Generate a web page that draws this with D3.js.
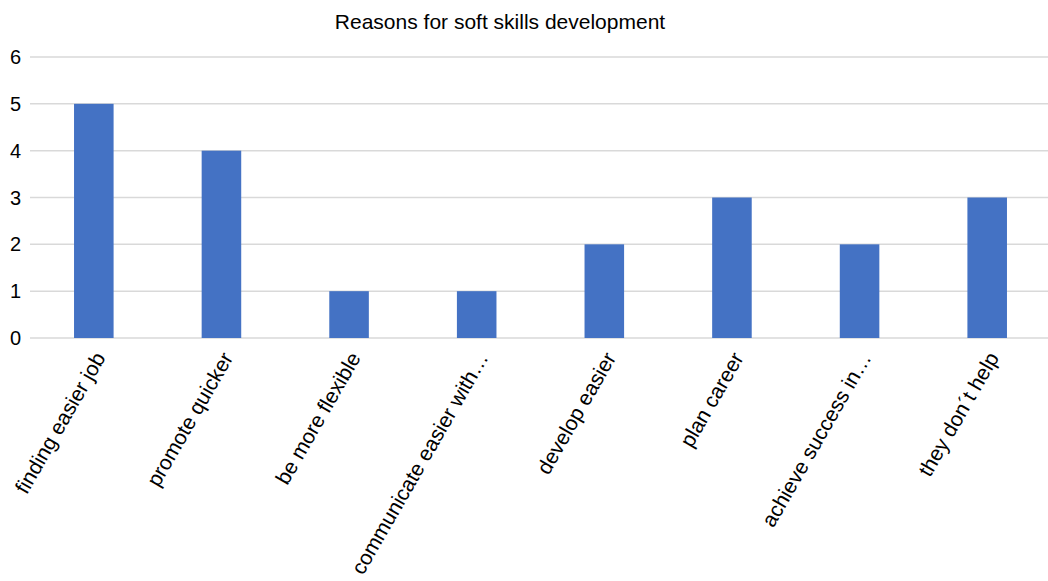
<!DOCTYPE html>
<html>
<head>
<meta charset="utf-8">
<script src="https://cdn.jsdelivr.net/npm/d3@7"></script>
<style>
  body { margin: 0; background: #fff; }
  text { font-family: "Liberation Sans", Arial, sans-serif; }
</style>
</head>
<body>
<div id="chart"></div>
<script>
var categories = ["finding easier job", "promote quicker", "be more flexible", "communicate easier with…",
                  "develop easier", "plan career", "achieve success in…", "they don´t help"];
var values = [5, 4, 1, 1, 2, 3, 2, 3];
var yTicks = [0, 1, 2, 3, 4, 5, 6];

var width = 1048;
var height = 581;
var plotLeft = 30, plotRight = 1051, plotTop = 57, plotBottom = 338;

var svg = d3.select("#chart")
    .append("svg")
      .attr("width", width)
      .attr("height", height);

var x = d3.scaleBand()
    .domain(categories)
    .range([plotLeft, plotRight])
    .paddingInner(0.69)
    .paddingOuter(0.345);

var y = d3.scaleLinear()
    .domain([0, 6])
    .range([plotBottom, plotTop]);

// gridlines
svg.append("g")
  .selectAll("line")
  .data(yTicks)
  .enter()
  .append("line")
    .attr("x1", plotLeft)
    .attr("x2", width)
    .attr("y1", function(d) { return y(d); })
    .attr("y2", function(d) { return y(d); })
    .style("stroke", "#d9d9d9")
    .style("stroke-width", 1.5);

// y labels
svg.append("g")
  .selectAll("text")
  .data(yTicks)
  .enter()
  .append("text")
    .attr("x", 21)
    .attr("y", function(d) { return y(d); })
    .attr("dy", "0.35em")
    .attr("text-anchor", "end")
    .style("font-size", "20px")
    .style("fill", "#000")
    .text(function(d) { return d; });

// bars
svg.append("g")
  .selectAll("rect")
  .data(values)
  .enter()
  .append("rect")
    .attr("x", function(d, i) { return x(categories[i]); })
    .attr("y", function(d) { return y(d); })
    .attr("width", x.bandwidth())
    .attr("height", function(d) { return y(0) - y(d); })
    .style("fill", "#4472c4");

// category labels
svg.append("g")
  .selectAll("text")
  .data(categories)
  .enter()
  .append("text")
    .attr("transform", function(d) {
      return "translate(" + (x(d) + x.bandwidth() / 2 + 6) + "," + 354 + ") rotate(-60)";
    })
    .attr("text-anchor", "end")
    .attr("dy", "0.35em")
    .style("font-size", "21px")
    .style("fill", "#000")
    .text(function(d) { return d; });

// title
svg.append("text")
    .attr("x", 500)
    .attr("y", 29)
    .attr("text-anchor", "middle")
    .style("font-size", "21px")
    .style("fill", "#000")
    .text("Reasons for soft skills development");
</script>
</body>
</html>
